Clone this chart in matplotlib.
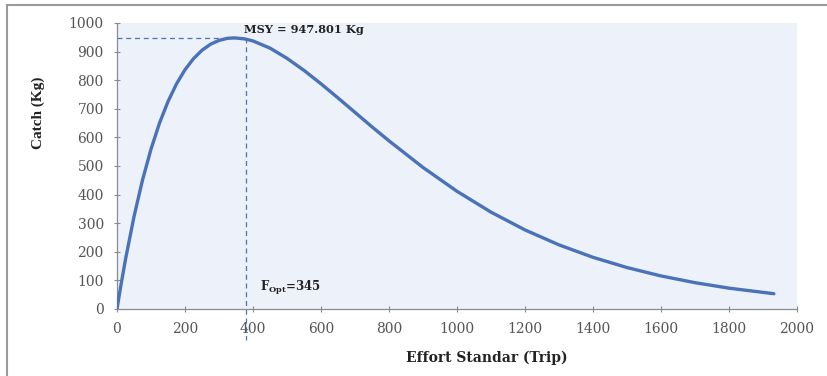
import matplotlib
matplotlib.use("Agg")
from matplotlib import pyplot as plt
from matplotlib.patches import Rectangle

# Catch vs standard effort
effort = [0, 10, 25, 50, 75, 100, 125, 150, 175, 200, 225, 250, 275, 300,
          325, 345, 375, 400, 450, 500, 550, 600, 650, 700, 750, 800, 900,
          1000, 1100, 1200, 1300, 1400, 1500, 1600, 1700, 1800, 1932]
catch = [0, 72.6, 173.7, 323.1, 450.7, 559.0, 649.9, 725.4, 787.1, 836.7,
         875.4, 904.7, 925.7, 939.1, 946.4, 948.0, 944.5, 937.2, 912.2,
         876.5, 834.3, 787.4, 737.9, 687.5, 636.9, 588.0, 494.9, 411.5,
         338.7, 276.5, 224.2, 180.7, 144.9, 115.6, 92.0, 72.9, 53.4]

msy = 947.801
f_line = 379          # where the dashed guide sits in the picture
msy_label = "MSY = 947.801 Kg"
fopt_label = r"F$_{\mathrm{Opt}}$=345"

xticks = list(range(0, 2001, 200))
yticks = list(range(0, 1001, 100))

# DejaVu Serif is wide, a fair stand-in for the stretched Times of the original
plt.rcParams['font.family'] = ['DejaVu Serif']
plt.rcParams['mathtext.fontset'] = 'custom'
plt.rcParams['mathtext.rm'] = 'DejaVu Serif:bold'
plt.rcParams['mathtext.it'] = 'DejaVu Serif:bold'
plt.rcParams['mathtext.bf'] = 'DejaVu Serif:bold'

fig = plt.figure(figsize=(8.28, 3.76), dpi=100)
W, H = 828, 376

# grey frame along top and left edge of the original screenshot
fig.patches.append(Rectangle((7 / W, -0.1), 1.2, (H - 5) / H + 0.1,
                             transform=fig.transFigure, fill=False,
                             edgecolor='#9a9a9a', linewidth=1.5))

ax = fig.add_axes([117 / W, 1 - 309 / H, (797 - 117) / W, (309 - 23) / H])
ax.set_facecolor('#edf1f9')

ax.plot(effort, catch, color='#4a72b8', linewidth=2.4, solid_capstyle='round', zorder=3)

ax.plot([0, f_line], [msy, msy], color='#4a72b8', linestyle=(0, (4, 3)),
        linewidth=0.9, zorder=2)
ax.plot([f_line, f_line], [msy, -110], color='#4a72b8', linestyle=(0, (4, 3)),
        linewidth=0.9, zorder=2, clip_on=False)

ax.text(375, 978, msy_label, fontsize=8.2, fontweight='bold', color='#222222',
        va='center', ha='left')
ax.text(420, 73, fopt_label, fontsize=8.5, fontweight='bold', color='#222222',
        va='center', ha='left')

ax.set_xlim(0, 2000)
ax.set_ylim(0, 1000)
ax.set_xticks(xticks)
ax.set_yticks(yticks)
ax.tick_params(direction='inout', length=5, width=0.8, color='#8c8c8c',
               labelsize=10, labelcolor='#555555')
ax.tick_params(axis='x', pad=7)
ax.tick_params(axis='y', pad=7)

for side in ['top', 'right']:
    ax.spines[side].set_visible(False)
for side in ['left', 'bottom']:
    ax.spines[side].set_color('#8c8c8c')
    ax.spines[side].set_linewidth(0.9)

ax.set_xlabel('Effort Standar (Trip)', fontsize=10, fontweight='bold',
              color='#222222')
ax.xaxis.set_label_coords((487 - 117) / 680, (309 - 351) / 286)
ax.set_ylabel('Catch (Kg)', fontsize=11, fontweight='bold', color='#222222',
              family='Liberation Serif')
ax.yaxis.set_label_coords((45 - 117) / 680, (309 - 113) / 286)

plt.savefig('out.png', dpi=100)
